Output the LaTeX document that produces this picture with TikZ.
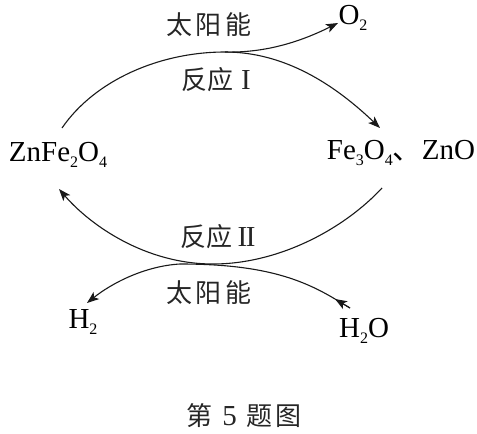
\documentclass[tikz,border=0pt]{standalone}
\usepackage{fontspec}
\setmainfont{Liberation Serif}
\newfontfamily\cjk{Noto Sans CJK SC}
\usetikzlibrary{arrows.meta}
\newcommand{\sbs}[1]{\raisebox{-0.2em}{\fontsize{16}{18}\selectfont #1}}
\newcommand{\rmn}[1]{{\fontspec{Liberation Serif}\fontsize{29}{30}\selectfont #1}}
\tikzset{
  lab/.style={inner sep=0pt,font=\fontsize{29}{32}\selectfont},
  cjklab/.style={inner sep=0pt,text=black!85,font=\cjk\fontsize{26}{30}\selectfont},
  curve/.style={line width=1.1pt,black!90,-{Stealth[length=12pt,width=9pt,inset=3pt]}},
  plaincurve/.style={line width=1.1pt,black!90}
}
\begin{document}
\begin{tikzpicture}[x=1pt,y=-1pt]
\useasboundingbox (0,0) rectangle (477,434);
\node[cjklab] (sun1) at (209,25) {太\hspace{4pt}阳\hspace{4pt}能};
\node[lab] (o2) at (353,18) {O\sbs{2}};
\node[cjklab] (r1) at (216,80) {反应\hspace{8pt}\rmn{I}};
\node[lab] (zf) at (58,155) {ZnFe\sbs{2}O\sbs{4}};
\node[lab] (fz) at (401,153) {Fe\sbs{3}O\sbs{4}{\cjk 、}ZnO};
\node[cjklab] (r2) at (218,237) {反应\hspace{5pt}\rmn{I\kern-1.5pt I}};
\node[cjklab] (sun2) at (209,293) {太\hspace{4pt}阳\hspace{4pt}能};
\node[lab] (h2) at (83,322) {H\sbs{2}};
\node[lab] (h2o) at (364,331) {H\sbs{2}O};
\node[cjklab] (cap) at (244,416) {第\hspace{10pt}\rmn{5}\hspace{10pt}题\hspace{3pt}图};
\coordinate (a1) at (62,128);
\coordinate (a2) at (225,52);
\coordinate (a3) at (380,128);
\coordinate (o2tip) at (338,23);
\coordinate (b1) at (382,188);
\coordinate (b2) at (213,264);
\coordinate (b3) at (59,189);
\coordinate (h2tip) at (87,303);
\coordinate (wstart) at (350,308);
\coordinate (wmid) at (335,299);
\coordinate (wend) at (180,264);
\draw[curve] (a1) .. controls (95,80) and (160,52) .. (a2) .. controls (285,52) and (335,85) .. (a3);
\draw[curve] (a2) .. controls (265,53) and (300,42) .. (o2tip);
\draw[curve] (b1) .. controls (345,228) and (280,264) .. (b2) .. controls (145,264) and (90,225) .. (b3);
\draw[curve] (wend) .. controls (145,266) and (112,283) .. (h2tip);
\draw[plaincurve] (wstart) -- (wmid) .. controls (300,278) and (260,264) .. (wend);
\draw[curve] (wstart) -- (wmid);
\end{tikzpicture}
\end{document}
